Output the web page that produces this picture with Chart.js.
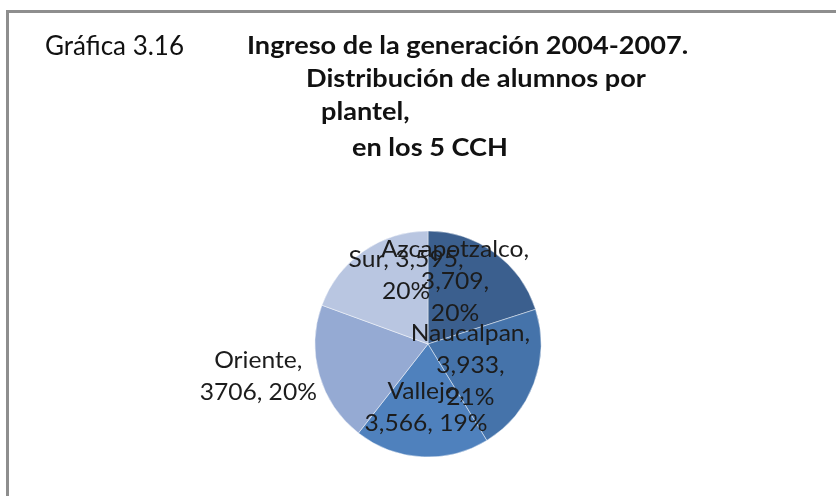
<!DOCTYPE html>
<html lang="es">
<head>
<meta charset="utf-8">
<title>Gráfica 3.16</title>
<script src="https://cdn.jsdelivr.net/npm/chart.js@4/dist/chart.umd.min.js"></script>
<style>
    html, body { margin: 0; padding: 0; background: #fff; }
    #hoja { position: relative; width: 836px; height: 496px; overflow: hidden; font-family: Lato, 'Open Sans', sans-serif; }
    #marco { position: absolute; left: 6px; top: 10px; width: 900px; height: 600px; border-top: 3px solid #8e8e8e; border-left: 3px solid #8e8e8e; }
    .txt { position: absolute; white-space: nowrap; color: #111; line-height: 1; transform-origin: left center; }
    .num { font-size: 26px; }
    .tit { font-size: 24px; font-weight: bold; transform: scaleX(1.13); }
    #grafico { position: absolute; left: 0; top: 0; }
</style>
</head>
<body>
<div id="hoja">
    <div id="marco"></div>
    <canvas id="grafico" width="836" height="496"></canvas>
    <div class="txt num" style="left:45px; top:32px;">Gráfica 3.16</div>
    <div class="txt tit" style="left:247px; top:33px;">Ingreso de la generación 2004-2007.</div>
    <div class="txt tit" style="left:306px; top:66px;">Distribución de alumnos por</div>
    <div class="txt tit" style="left:321px; top:99px;">plantel,</div>
    <div class="txt tit" style="left:352px; top:135px;">en los 5 CCH</div>
</div>
<script>
// datos
const planteles = ['Azcapotzalco', 'Naucalpan', 'Vallejo', 'Oriente', 'Sur'];
const alumnos = [3709, 3933, 3566, 3706, 3595];
const alumnosTexto = ['3,709', '3,933', '3,566', '3706', '3,595'];
const porcentajes = [20, 21, 19, 20, 20];
const colores = ['#3b5f8e', '#4573aa', '#4f81bd', '#95aad3', '#b9c6e1'];

// como se parte cada etiqueta en renglones (0 = nombre, 1 = valor, 2 = porcentaje)
const renglones = [[[0], [1], [2]], [[0], [1], [2]], [[0], [1, 2]], [[0], [1, 2]], [[0, 1], [2]]];
// ajuste de la etiqueta: giro en grados y fraccion del radio
const giroEtiqueta = [-12.6, 6.2, -1.5, 5, 17.3];
const radioEtiqueta = [0.60, 0.42, 0.56, 1.53, 0.64];

function textoEtiqueta(i) {
    const partes = [planteles[i] + ',', alumnosTexto[i] + ',', porcentajes[i] + '%'];
    return renglones[i].map(r => r.map(k => partes[k]).join(' '));
}

const etiquetasPastel = {
    id: 'etiquetasPastel',
    afterDatasetsDraw(chart) {
        const ctx = chart.ctx;
        const arcos = chart.getDatasetMeta(0).data;
        ctx.save();
        ctx.font = '23px Lato, "Open Sans", sans-serif';
        ctx.fillStyle = '#1c1c1c';
        ctx.textAlign = 'center';
        ctx.textBaseline = 'middle';
        arcos.forEach(function(arco, i) {
            const p = arco.getProps(['x', 'y', 'startAngle', 'endAngle', 'outerRadius'], true);
            const ang = (p.startAngle + p.endAngle) / 2 + giroEtiqueta[i] * Math.PI / 180;
            const r = p.outerRadius * radioEtiqueta[i];
            const cx = p.x + Math.cos(ang) * r;
            const cy = p.y + Math.sin(ang) * r;
            const lineas = textoEtiqueta(i);
            const alto = 32;
            lineas.forEach(function(l, j) {
                ctx.save();
                ctx.translate(cx, cy + (j - (lineas.length - 1) / 2) * alto);
                ctx.scale(1.07, 1);
                ctx.fillText(l, 0, 0);
                ctx.restore();
            });
        });
        ctx.restore();
    }
};

new Chart(document.getElementById('grafico').getContext('2d'), {
    type: 'pie',
    data: {
        labels: planteles,
        datasets: [{
            data: alumnos,
            backgroundColor: colores,
            borderColor: 'rgba(255,255,255,0.45)',
            borderWidth: 1,
        }],
    },
    options: {
        responsive: false,
        animation: false,
        radius: 113,
        layout: { padding: { left: 20, right: 0, top: 192, bottom: 0 } },
        plugins: {
            legend: { display: false },
            tooltip: { enabled: false },
            title: { display: false },
        },
    },
    plugins: [etiquetasPastel],
});
</script>
</body>
</html>
